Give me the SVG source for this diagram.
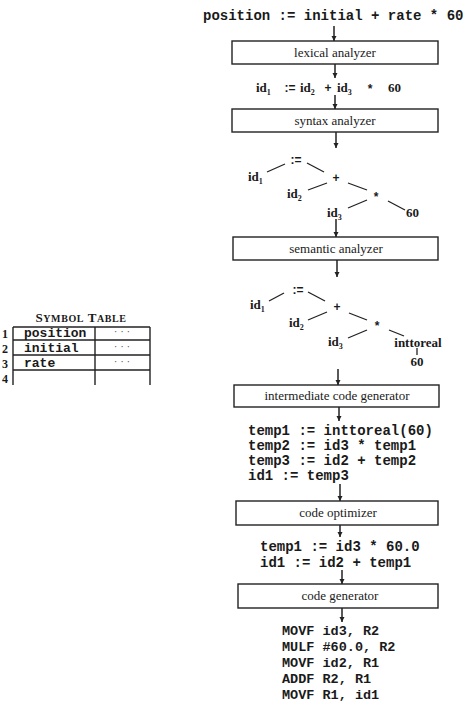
<svg xmlns="http://www.w3.org/2000/svg" width="474" height="709" viewBox="0 0 474 709">
<style>
.mono{font-family:"Liberation Mono","DejaVu Sans Mono",monospace;font-weight:bold;font-size:14px;fill:#1a1a1a}
.code{font-family:"Liberation Mono","DejaVu Sans Mono",monospace;font-weight:bold;font-size:13.5px;fill:#1a1a1a}
.lbl{font-family:"Liberation Serif","DejaVu Serif",serif;font-size:13px;fill:#1a1a1a;text-anchor:middle}
.id{font-family:"Liberation Serif","DejaVu Serif",serif;font-weight:bold;font-size:13px;fill:#1a1a1a}
.sub{font-size:8px}
.op{font-family:"Liberation Sans","DejaVu Sans",sans-serif;font-weight:bold;font-size:12px;fill:#1a1a1a;text-anchor:middle}
.box{fill:#fff;stroke:#222;stroke-width:1.4}
.edge{stroke:#222;stroke-width:1.3;fill:none}
.arr{stroke:#222;stroke-width:1.5;fill:none;marker-end:url(#ah)}
.tbl{stroke:#222;stroke-width:1.4;fill:none}
.tcell{font-family:"Liberation Mono","DejaVu Sans Mono",monospace;font-weight:bold;font-size:13px;fill:#1a1a1a}
.num{font-family:"Liberation Serif","DejaVu Serif",serif;font-weight:bold;font-size:12px;fill:#1a1a1a}
.dots{font-family:"Liberation Serif","DejaVu Serif",serif;font-size:11px;fill:#555;text-anchor:middle}
.ttl{font-family:"Liberation Serif","DejaVu Serif",serif;font-weight:bold;font-size:13px;fill:#1a1a1a;text-anchor:middle;letter-spacing:0.6px}
</style>
<defs>
<marker id="ah" viewBox="0 0 10 10" refX="10" refY="5" markerWidth="5" markerHeight="6" orient="auto" markerUnits="userSpaceOnUse">
<path d="M0,0 L10,5 L0,10 z" fill="#222"/>
</marker>
</defs>
<rect width="474" height="709" fill="#fff"/>

<g id="connectors">
<line class="arr" x1="334" y1="26" x2="334" y2="41"/>
<line class="arr" x1="335" y1="64" x2="335" y2="78"/>
<line class="arr" x1="335" y1="95" x2="335" y2="109"/>
<line class="arr" x1="336" y1="132" x2="336" y2="148"/>
<line class="arr" x1="336" y1="219" x2="336" y2="237"/>
<line class="arr" x1="337" y1="260" x2="337" y2="277"/>
<line class="arr" x1="338" y1="369" x2="338" y2="385"/>
<line class="arr" x1="339" y1="407" x2="339" y2="421"/>
<line class="arr" x1="340" y1="484" x2="340" y2="501"/>
<line class="arr" x1="340" y1="525" x2="340" y2="537"/>
<line class="arr" x1="342" y1="570" x2="342" y2="584"/>
<line class="arr" x1="342" y1="608" x2="342" y2="622"/>
<!-- tree 1 edges -->
<line class="edge" x1="267" y1="172" x2="285" y2="164"/>
<line class="edge" x1="307" y1="163" x2="324" y2="172"/>
<line class="edge" x1="308" y1="190" x2="327" y2="183"/>
<line class="edge" x1="348" y1="183" x2="367" y2="190"/>
<line class="edge" x1="348" y1="208" x2="367" y2="200"/>
<line class="edge" x1="388" y1="201" x2="405" y2="210"/>
<!-- tree 2 edges -->
<line class="edge" x1="269" y1="301" x2="284" y2="293"/>
<line class="edge" x1="308" y1="292" x2="325" y2="301"/>
<line class="edge" x1="308" y1="320" x2="327" y2="312"/>
<line class="edge" x1="349" y1="313" x2="367" y2="320"/>
<line class="edge" x1="348" y1="338" x2="367" y2="330"/>
<line class="edge" x1="389" y1="330" x2="404" y2="336"/>
<line class="edge" x1="417" y1="348" x2="417" y2="355"/>
</g>

<g id="source"><text class="mono" x="203" y="20">position := initial + rate * 60</text></g>

<g id="lexical"><rect class="box" x="232" y="41" width="206" height="23"/><text class="lbl" x="335" y="57">lexical analyzer</text></g>

<g id="tokens">
<text class="id" x="256" y="92">id<tspan class="sub" dy="3">1</tspan></text>
<text class="op" x="290" y="92">:=</text>
<text class="id" x="300" y="92">id<tspan class="sub" dy="3">2</tspan></text>
<text class="op" x="328" y="92">+</text>
<text class="id" x="337" y="92">id<tspan class="sub" dy="3">3</tspan></text>
<text class="op" x="370" y="93">*</text>
<text class="id" x="388" y="92">60</text>
</g>

<g id="syntax"><rect class="box" x="232" y="109" width="206" height="23"/><text class="lbl" x="335" y="125">syntax analyzer</text></g>

<g id="tree1">
<text class="op" x="296" y="164">:=</text>
<text class="id" x="248" y="181">id<tspan class="sub" dy="3">1</tspan></text>
<text class="op" x="336" y="182">+</text>
<text class="id" x="287" y="198">id<tspan class="sub" dy="3">2</tspan></text>
<text class="op" x="376" y="201">*</text>
<text class="id" x="327" y="217">id<tspan class="sub" dy="3">3</tspan></text>
<text class="id" x="406" y="217">60</text>
</g>

<g id="semantic"><rect class="box" x="233" y="237" width="205" height="23"/><text class="lbl" x="336" y="253">semantic analyzer</text></g>

<g id="tree2">
<text class="op" x="298" y="294">:=</text>
<text class="id" x="250" y="309">id<tspan class="sub" dy="3">1</tspan></text>
<text class="op" x="337" y="311">+</text>
<text class="id" x="289" y="327">id<tspan class="sub" dy="3">2</tspan></text>
<text class="op" x="377" y="330">*</text>
<text class="id" x="328" y="346">id<tspan class="sub" dy="3">3</tspan></text>
<text class="id" x="418" y="347" text-anchor="middle">inttoreal</text>
<text class="id" x="417" y="366" text-anchor="middle">60</text>
</g>

<g id="symtable">
<text class="ttl" x="81" y="322">S<tspan font-size="10">YMBOL</tspan> T<tspan font-size="10">ABLE</tspan></text>
<line class="tbl" x1="13" y1="327" x2="150" y2="327"/>
<line class="tbl" x1="13" y1="340" x2="150" y2="340"/>
<line class="tbl" x1="13" y1="355" x2="150" y2="355"/>
<line class="tbl" x1="13" y1="370" x2="150" y2="370"/>
<line class="tbl" x1="13" y1="327" x2="13" y2="385"/>
<line class="tbl" x1="95" y1="327" x2="95" y2="385"/>
<line class="tbl" x1="150" y1="327" x2="150" y2="385"/>
<text class="num" x="2" y="338">1</text>
<text class="num" x="2" y="353">2</text>
<text class="num" x="2" y="368">3</text>
<text class="num" x="2" y="383">4</text>
<text class="tcell" x="24" y="337">position</text>
<text class="tcell" x="24" y="352">initial</text>
<text class="tcell" x="24" y="367">rate</text>
<text class="dots" x="122" y="335">·  ·  ·</text>
<text class="dots" x="122" y="350">·  ·  ·</text>
<text class="dots" x="122" y="365">·  ·  ·</text>
</g>

<g id="intermediate"><rect class="box" x="234" y="385" width="205" height="22"/><text class="lbl" x="337" y="400">intermediate code generator</text></g>

<g id="ircode">
<text class="mono" x="248" y="435">temp1 := inttoreal(60)</text>
<text class="mono" x="248" y="450">temp2 := id3 * temp1</text>
<text class="mono" x="248" y="465">temp3 := id2 + temp2</text>
<text class="mono" x="248" y="480">id1 := temp3</text>
</g>

<g id="optimizer"><rect class="box" x="236" y="501" width="202" height="24"/><text class="lbl" x="338" y="517">code optimizer</text></g>

<g id="optcode">
<text class="mono" x="260" y="551">temp1 := id3 * 60.0</text>
<text class="mono" x="260" y="567">id1 := id2 + temp1</text>
</g>

<g id="codegen"><rect class="box" x="238" y="584" width="200" height="24"/><text class="lbl" x="340" y="600">code generator</text></g>

<g id="target">
<text class="code" x="282" y="635">MOVF id3, R2</text>
<text class="code" x="282" y="651">MULF #60.0, R2</text>
<text class="code" x="282" y="667">MOVF id2, R1</text>
<text class="code" x="282" y="683">ADDF R2, R1</text>
<text class="code" x="282" y="699">MOVF R1, id1</text>
</g>
</svg>
